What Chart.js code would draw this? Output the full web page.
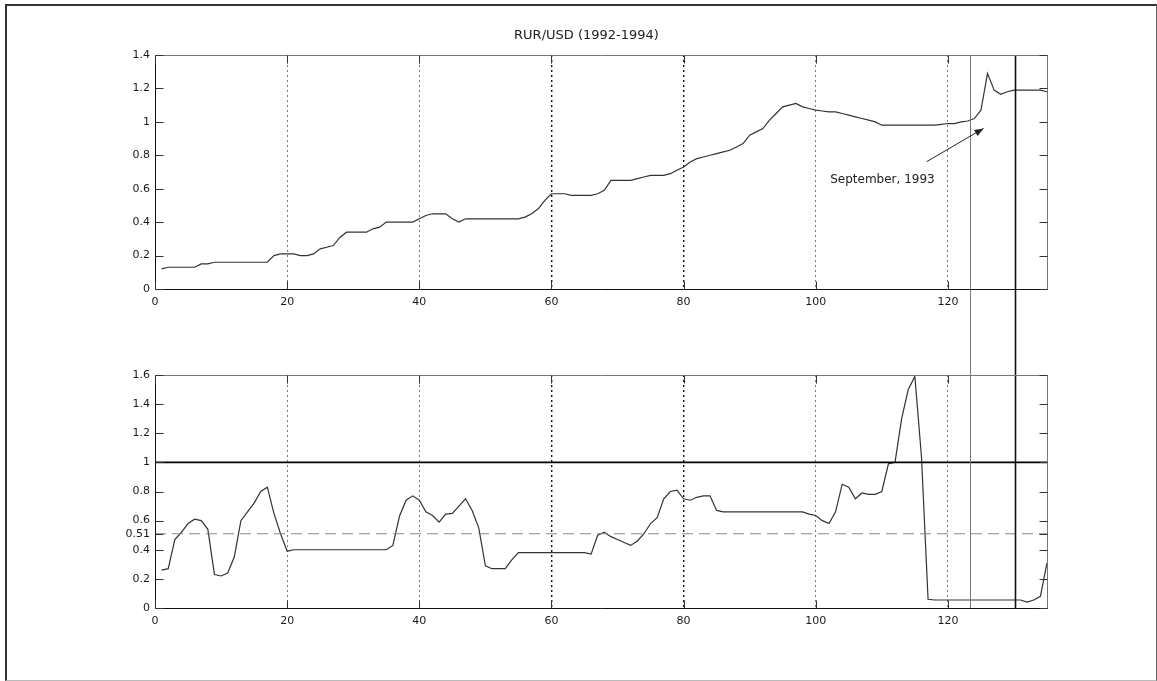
<!DOCTYPE html>
<html><head><meta charset="utf-8">
<script src="https://cdn.jsdelivr.net/npm/chart.js@4"></script>
<style>
html,body{margin:0;padding:0;background:#fff;}
body{width:1157px;height:681px;position:relative;overflow:hidden;}
#frame{position:absolute;left:5px;top:4px;width:1152px;height:677px;border-left:2px solid #333;border-top:2px solid #333;border-right:1px solid #666;border-bottom:1px solid #bbb;box-sizing:border-box;}
#top{position:absolute;left:0;top:0;}
#bot{position:absolute;left:0;top:330px;}
</style></head>
<body>
<div id="frame"></div>
<canvas id="top" width="1157" height="330"></canvas>
<canvas id="bot" width="1157" height="351"></canvas>
<script>
// ---- data ----
const chartTitle = 'RUR/USD (1992-1994)';
const xTicks = [0, 20, 40, 60, 80, 100, 120];
const topYTicks = [0, 0.2, 0.4, 0.6, 0.8, 1, 1.2, 1.4];
const botYTicks = [0, 0.2, 0.4, 0.51, 0.6, 0.8, 1, 1.2, 1.4, 1.6];

// exchange rate, one value per period 1..135
const rateValues = [
  0.12,0.13,0.13,0.13,0.13,0.13,0.15,0.15,0.16,0.16,
  0.16,0.16,0.16,0.16,0.16,0.16,0.16,0.20,0.21,0.21,
  0.21,0.20,0.20,0.21,0.24,0.25,0.26,0.31,0.34,0.34,
  0.34,0.34,0.36,0.37,0.40,0.40,0.40,0.40,0.40,0.42,
  0.44,0.45,0.45,0.45,0.42,0.40,0.42,0.42,0.42,0.42,
  0.42,0.42,0.42,0.42,0.42,0.43,0.45,0.48,0.53,0.57,
  0.57,0.57,0.56,0.56,0.56,0.56,0.57,0.59,0.65,0.65,
  0.65,0.65,0.66,0.67,0.68,0.68,0.68,0.69,0.71,0.73,
  0.76,0.78,0.79,0.80,0.81,0.82,0.83,0.85,0.87,0.92,
  0.94,0.96,1.01,1.05,1.09,1.10,1.11,1.09,1.08,1.07,
  1.065,1.06,1.06,1.05,1.04,1.03,1.02,1.01,1.00,0.98,
  0.98,0.98,0.98,0.98,0.98,0.98,0.98,0.98,0.985,0.99,
  0.99,1.00,1.005,1.02,1.07,1.29,1.19,1.165,1.18,1.19,
  1.19,1.19,1.19,1.19,1.18
];

// indicator, one value per period 1..135
const indicatorValues = [
  0.26,0.27,0.47,0.52,0.58,0.61,0.60,0.54,0.23,0.22,
  0.24,0.35,0.60,0.66,0.72,0.80,0.83,0.65,0.51,0.39,
  0.40,0.40,0.40,0.40,0.40,0.40,0.40,0.40,0.40,0.40,
  0.40,0.40,0.40,0.40,0.40,0.43,0.63,0.74,0.77,0.74,
  0.66,0.635,0.59,0.645,0.65,0.70,0.75,0.67,0.55,0.29,
  0.27,0.27,0.27,0.33,0.38,0.38,0.38,0.38,0.38,0.38,
  0.38,0.38,0.38,0.38,0.38,0.37,0.50,0.52,0.49,0.47,
  0.45,0.43,0.46,0.51,0.58,0.62,0.75,0.80,0.81,0.75,
  0.74,0.76,0.77,0.77,0.67,0.66,0.66,0.66,0.66,0.66,
  0.66,0.66,0.66,0.66,0.66,0.66,0.66,0.66,0.645,0.635,
  0.60,0.58,0.66,0.85,0.83,0.75,0.79,0.78,0.78,0.80,
  0.99,1.00,1.30,1.50,1.59,1.04,0.06,0.055,0.055,0.055,
  0.055,0.055,0.055,0.055,0.055,0.055,0.055,0.055,0.055,0.055,
  0.055,0.04,0.055,0.08,0.31
];

const levelX = [0, 135];
const upperLevel = [1, 1];
const lowerLevel = [0.51, 0.51];

const markerLines = [123.3, 130.2];

const annotation = { text: 'September, 1993', textX: 110.1, textY: 0.634,
                     tailX: 116.8, tailY: 0.762, headX: 125.4, headY: 0.961 };

// ---- rendering ----
Chart.defaults.font.family = "'DejaVu Sans', sans-serif";
Chart.defaults.font.size = 11;
Chart.defaults.color = '#1a1a1a';

const toPts = vals => vals.map((v, i) => ({ x: i + 1, y: v }));
const pairPts = (xs, ys) => xs.map((x, i) => ({ x, y: ys[i] }));

const markerStyle = [{ color: '#777', width: 1 }, { color: '#111', width: 1.6 }];

const framePlugin = {
  id: 'matlabFrame',
  afterDatasetsDraw(chart, args, opts) {
    const { ctx, chartArea: a, scales: { x, y } } = chart;
    ctx.save();
    markerLines.forEach((v, i) => {
      const px = Math.round(x.getPixelForValue(v)) + 0.5;
      ctx.strokeStyle = markerStyle[i].color;
      ctx.lineWidth = markerStyle[i].width;
      ctx.beginPath();
      if (opts.upper) { ctx.moveTo(px, a.top); ctx.lineTo(px, chart.height); }
      else { ctx.moveTo(px, 0); ctx.lineTo(px, a.bottom); }
      ctx.stroke();
    });
    const L = Math.round(a.left) + 0.5, R = Math.round(a.right) + 0.5;
    const T = Math.round(a.top) + 0.5, B = Math.round(a.bottom) + 0.5;
    ctx.lineWidth = 1;
    ctx.strokeStyle = '#777';
    ctx.beginPath(); ctx.moveTo(L, T); ctx.lineTo(R, T); ctx.lineTo(R, B); ctx.stroke();
    ctx.strokeStyle = '#111';
    ctx.beginPath(); ctx.moveTo(L, T); ctx.lineTo(L, B); ctx.lineTo(R, B); ctx.stroke();
    const tl = 8;
    ctx.strokeStyle = '#333';
    ctx.beginPath();
    y.ticks.forEach(t => {
      const py = Math.round(y.getPixelForValue(t.value)) + 0.5;
      ctx.moveTo(L, py); ctx.lineTo(L + tl, py);
      ctx.moveTo(R, py); ctx.lineTo(R - tl, py);
    });
    x.ticks.forEach(t => {
      const px = Math.round(x.getPixelForValue(t.value)) + 0.5;
      ctx.moveTo(px, B); ctx.lineTo(px, B - tl);
      ctx.moveTo(px, T); ctx.lineTo(px, T + tl);
    });
    ctx.stroke();
    if (opts.annotation) {
      const an = opts.annotation;
      const tx = x.getPixelForValue(an.tailX), ty = y.getPixelForValue(an.tailY);
      const hx = x.getPixelForValue(an.headX), hy = y.getPixelForValue(an.headY);
      ctx.strokeStyle = '#222'; ctx.fillStyle = '#222'; ctx.lineWidth = 1;
      ctx.beginPath(); ctx.moveTo(tx, ty); ctx.lineTo(hx, hy); ctx.stroke();
      const ang = Math.atan2(hy - ty, hx - tx), hl = 9, hw = 3.5;
      ctx.beginPath();
      ctx.moveTo(hx, hy);
      ctx.lineTo(hx - hl * Math.cos(ang) + hw * Math.sin(ang), hy - hl * Math.sin(ang) - hw * Math.cos(ang));
      ctx.lineTo(hx - hl * Math.cos(ang) - hw * Math.sin(ang), hy - hl * Math.sin(ang) + hw * Math.cos(ang));
      ctx.closePath(); ctx.fill();
      ctx.font = "12px 'DejaVu Sans', sans-serif";
      ctx.textAlign = 'center'; ctx.textBaseline = 'alphabetic';
      ctx.fillText(an.text, x.getPixelForValue(an.textX), y.getPixelForValue(an.textY));
    }
    ctx.restore();
  }
};

function gridColor(c) {
  const v = c.tick && c.tick.value;
  if (v === 0) return 'rgba(0,0,0,0)';
  if (v === 60 || v === 80) return '#111';
  return '#7a7a7a';
}
function gridWidth(c) {
  const v = c.tick && c.tick.value;
  return (v === 60 || v === 80) ? 1.4 : 1;
}

function xScale(h) {
  return {
    type: 'linear', min: 0, max: 135,
    afterBuildTicks: s => { s.ticks = xTicks.map(v => ({ value: v })); },
    afterFit: s => { s.height = h; },
    ticks: { autoSkip: false, maxRotation: 0, padding: 7, callback: v => String(v) },
    grid: { display: true, drawTicks: false, color: gridColor, lineWidth: gridWidth },
    border: { display: false, dash: [2, 3] }
  };
}
function yScale(maxV, ticksArr) {
  return {
    type: 'linear', min: 0, max: maxV,
    afterBuildTicks: s => { s.ticks = ticksArr.map(v => ({ value: v })); },
    afterFit: s => { s.width = 29; },
    ticks: { autoSkip: false, padding: 5, callback: v => String(v) },
    grid: { display: false, drawTicks: false },
    border: { display: false }
  };
}

new Chart(document.getElementById('top'), {
  type: 'line',
  data: { datasets: [{
    data: toPts(rateValues), borderColor: '#333', borderWidth: 1.2,
    pointRadius: 0, tension: 0, fill: false
  }] },
  options: {
    responsive: false, animation: false,
    layout: { padding: { left: 126, right: 110, top: 0, bottom: 0 } },
    plugins: {
      legend: { display: false }, tooltip: { enabled: false },
      title: { display: true, text: chartTitle, color: '#222',
               font: { size: 13, weight: 'normal' }, padding: { top: 28, bottom: 11.4 } },
      matlabFrame: { upper: true, annotation: annotation }
    },
    scales: { x: xScale(41), y: yScale(1.4, topYTicks) }
  },
  plugins: [framePlugin]
});

new Chart(document.getElementById('bot'), {
  type: 'line',
  data: { datasets: [
    { data: pairPts(levelX, upperLevel), borderColor: '#000', borderWidth: 1.6, pointRadius: 0 },
    { data: pairPts(levelX, lowerLevel), borderColor: '#888', borderWidth: 1.2, borderDash: [11, 6], pointRadius: 0 },
    { data: toPts(indicatorValues), borderColor: '#333', borderWidth: 1.2, pointRadius: 0, tension: 0, fill: false }
  ] },
  options: {
    responsive: false, animation: false,
    layout: { padding: { left: 126, right: 110, top: 45, bottom: 0 } },
    plugins: {
      legend: { display: false }, tooltip: { enabled: false },
      matlabFrame: { upper: false }
    },
    scales: { x: xScale(73), y: yScale(1.6, botYTicks) }
  },
  plugins: [framePlugin]
});
</script>
</body></html>
